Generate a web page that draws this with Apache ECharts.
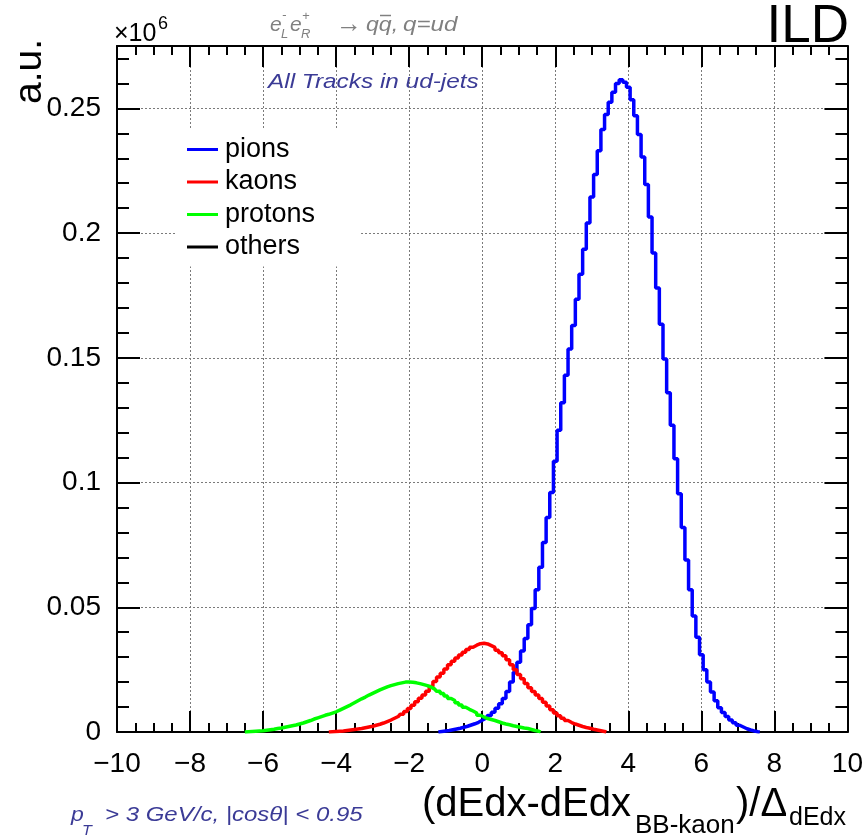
<!DOCTYPE html>
<html><head><meta charset="utf-8">
<script src="https://cdn.jsdelivr.net/npm/echarts@6/dist/echarts.min.js"></script>
<style>html,body{margin:0;padding:0;background:#fff}#c{width:866px;height:840px}</style>
</head><body><div id="c"></div>
<script>
// ---- data (histogram bins, width 0.1) ----
const binWidth = 0.1;
const pionStart = -1.2;
const pions = [0,0.0002,0.0004,0.0006,0.0009,0.0012,0.0015,0.0019,0.0023,0.0028,0.0033,0.0039,
  0.0047,0.0055,0.0066,0.0079,0.0095,0.0113,0.0134,0.0162,0.0200,0.0240,
  0.0280,0.0325,0.0375,0.0430,0.0495,0.0570,0.0660,0.0760,0.0860,0.0960,
  0.1085,0.1210,0.1320,0.1430,0.1535,0.1630,0.1735,0.1835,0.1935,0.2040,
  0.2145,0.2235,0.2330,0.2415,0.2475,0.2525,0.2565,0.2600,0.2615,0.2605,
  0.2585,0.2535,0.2470,0.2395,0.2305,0.2195,0.2065,0.1920,0.1780,0.1635,
  0.1495,0.1360,0.1230,0.1095,0.0955,0.0820,0.0690,0.0570,0.0465,0.0380,
  0.0310,0.0250,0.0200,0.0160,0.0125,0.0097,0.0078,0.0062,0.0048,0.0037,
  0.0027,0.0020,0.0013,0.0008,0.0004,0.0001,0];
const kaonStart = -4.2;
const kaons = [0,0.0001,0.0002,0.0003,0.0004,0.0006,0.0008,0.0010,0.0012,0.0014,
  0.0017,0.0020,0.0023,0.0027,0.0031,0.0036,0.0042,0.0048,0.0055,0.0062,
  0.0071,0.0082,0.0094,0.0107,0.0121,0.0135,0.0148,0.0163,0.0182,0.0202,
  0.0220,0.0236,0.0253,0.0270,0.0284,0.0297,0.0309,0.0320,0.0331,0.0340,
  0.0348,0.0354,0.0356,0.0353,0.0346,0.0339,0.0328,0.0318,0.0306,0.0290,
  0.0270,0.0250,0.0231,0.0213,0.0194,0.0177,0.0162,0.0148,0.0134,0.0119,
  0.0104,0.0089,0.0076,0.0065,0.0055,0.0046,0.0038,0.0032,0.0027,0.0022,
  0.0018,0.0015,0.0011,0.0008,0.0005,0.0002,0];
const protonStart = -6.5;
const protons = [0,0.0001,0.0002,0.0003,0.0004,0.0005,0.0007,0.0009,0.0011,0.0014,
  0.0016,0.0019,0.0022,0.0025,0.0028,0.0032,0.0036,0.0041,0.0046,0.0052,
  0.0057,0.0062,0.0067,0.0071,0.0076,0.0081,0.0088,0.0095,0.0102,0.0109,
  0.0117,0.0125,0.0133,0.0140,0.0148,0.0155,0.0162,0.0169,0.0175,0.0181,
  0.0186,0.0190,0.0194,0.0197,0.0200,0.0200,0.0199,0.0197,0.0194,0.0190,
  0.0186,0.0180,0.0172,0.0163,0.0154,0.0144,0.0134,0.0126,0.0117,0.0108,
  0.0099,0.0091,0.0084,0.0076,0.0067,0.0060,0.0054,0.0050,0.0046,0.0041,
  0.0036,0.0032,0.0029,0.0025,0.0022,0.0019,0.0016,0.0014,0.0010,0.0006,
  0.0003,0];
const others = [];
const seriesNames = ['pions','kaons','protons','others'];
const seriesColors = ['#0000ff','#ff0000','#00ff00','#000000'];
const xRange = [-10, 10, 2];
const yRange = [0, 0.275, 0.05];

function toPairs(start, arr){ return arr.map((v,i)=>[+(start+i*binWidth).toFixed(2), v]); }

const FONT = 'Liberation Sans';
const chart = echarts.init(document.getElementById('c'), null, {renderer:'canvas'});

const baseX = {type:'value', min:xRange[0], max:xRange[1], interval:xRange[2],
  axisLine:{show:true, onZero:false, lineStyle:{color:'#000', width:2}},
  axisTick:{show:true, inside:true, length:21, lineStyle:{color:'#000', width:2}},
  minorTick:{show:true, splitNumber:4, length:9, lineStyle:{color:'#000', width:2}},
};
const baseY = {type:'value', min:yRange[0], max:yRange[1], interval:yRange[2],
  axisLine:{show:true, onZero:false, lineStyle:{color:'#000', width:2}},
  axisTick:{show:true, inside:true, length:23, lineStyle:{color:'#000', width:2}},
  minorTick:{show:true, splitNumber:5, length:12, lineStyle:{color:'#000', width:2}},
};
function isMajor(v, step){ return Math.abs(v/step - Math.round(v/step)) < 1e-6; }

// text helper: baseline-positioned text (y = baseline)
function txt(text, x, baseline, size, opts){
  opts = opts || {};
  return {type:'text', x:x, y:baseline - 0.33*size, scaleX:opts.sx||1, scaleY:1,
    style:{text:text, fontFamily:FONT, fontStyle:opts.italic?'italic':'normal', fontSize:size,
      fill:opts.color||'#000', align:opts.align||'left', verticalAlign:'middle'}};
}

const option = {
  animation:false,
  backgroundColor:'#fff',
  grid:{left:117, right:16, top:46, bottom:108, containLabel:false},
  xAxis:[
    Object.assign({}, baseX, {position:'bottom',
      axisLabel:{show:true, margin:18, fontFamily:FONT, fontSize:28, color:'#000',
        formatter:v=>String(v).replace('-','\u2212')},
      splitLine:{show:true, lineStyle:{type:[2,2], color:'#7a7a7a', width:1}}}),
    Object.assign({}, baseX, {position:'top', axisLabel:{show:false}, splitLine:{show:false}})
  ],
  yAxis:[
    Object.assign({}, baseY, {position:'left',
      axisLabel:{show:true, margin:16, fontFamily:FONT, fontSize:28, color:'#000',
        formatter:v=> isMajor(v, yRange[2]) ? String(+v.toFixed(3)) : ''},
      splitLine:{show:true, lineStyle:{type:[2,2], color:'#7a7a7a', width:1}}}),
    Object.assign({}, baseY, {position:'right', axisLabel:{show:false}, splitLine:{show:false}})
  ],
  legend:{
    show:true, orient:'vertical', left:175, top:130,
    padding:[6,46,6,12], itemGap:5.5, itemWidth:31, itemHeight:3, icon:'rect',
    backgroundColor:'#fff', selectedMode:false,
    textStyle:{fontFamily:FONT, fontSize:27, color:'#000', lineHeight:27, padding:[0,0,0,2]},
    data:seriesNames
  },
  series:[
    {name:seriesNames[0], type:'line', step:'middle', showSymbol:false, symbol:'none',
      data:toPairs(pionStart, pions), lineStyle:{color:seriesColors[0], width:3.5}, itemStyle:{color:seriesColors[0]}},
    {name:seriesNames[1], type:'line', step:'middle', showSymbol:false, symbol:'none',
      data:toPairs(kaonStart, kaons), lineStyle:{color:seriesColors[1], width:3.5}, itemStyle:{color:seriesColors[1]}},
    {name:seriesNames[2], type:'line', step:'middle', showSymbol:false, symbol:'none',
      data:toPairs(protonStart, protons), lineStyle:{color:seriesColors[2], width:3.5}, itemStyle:{color:seriesColors[2]}},
    {name:seriesNames[3], type:'line', step:'middle', showSymbol:false, symbol:'none',
      data:others, lineStyle:{color:seriesColors[3], width:3.5}, itemStyle:{color:seriesColors[3]}}
  ],
  graphic:[
    // y title
    {type:'text', x:30, y:39, rotation:Math.PI/2,
      style:{text:'a.u.', fontFamily:FONT, fontSize:39, fill:'#000', align:'right', verticalAlign:'middle'}},
    // x10^6
    txt('\u00d710', 114, 42, 25),
    txt('6', 158, 30, 18),
    // ILD
    txt('ILD', 849, 45, 53, {align:'right'}),
    // process label
    txt('e', 270, 32, 21, {italic:true, color:'#808080'}),
    txt('-', 282, 20, 13, {italic:true, color:'#808080'}),
    txt('L', 281, 39, 13, {italic:true, color:'#808080'}),
    txt('e', 290, 32, 21, {italic:true, color:'#808080'}),
    txt('+', 302, 21, 13, {italic:true, color:'#808080'}),
    txt('R', 301, 39, 13, {italic:true, color:'#808080'}),
    txt('\u2192', 336, 33, 26, {color:'#808080', sx:1.0}),
    txt('qq,', 366, 32, 21, {italic:true, color:'#808080', sx:1.1}),
    txt('q=ud', 403, 32, 21, {italic:true, color:'#808080', sx:1.15}),
    {type:'line', shape:{x1:380, y1:15.5, x2:391, y2:15.5}, style:{stroke:'#808080', lineWidth:1.5}},
    // All tracks
    txt('All Tracks in ud-jets', 268, 89, 21, {italic:true, color:'#3b3b96', sx:1.16}),
    // bottom-left cut text
    txt('p', 71, 822, 20, {italic:true, color:'#3b3b96', sx:1.15}),
    txt('T', 82, 836, 14, {italic:true, color:'#3b3b96', sx:1.15}),
    txt('> 3 GeV/c, |cos\u03b8| < 0.95', 105, 822, 20, {italic:true, color:'#3b3b96', sx:1.2}),
    // x title
    txt('(dEdx-dEdx', 422, 818, 40),
    txt('BB-kaon', 635, 834, 26),
    txt(')/\u0394', 736, 818, 40),
    txt('dEdx', 789, 826, 25)
  ]
};
chart.setOption(option);
</script></body></html>
